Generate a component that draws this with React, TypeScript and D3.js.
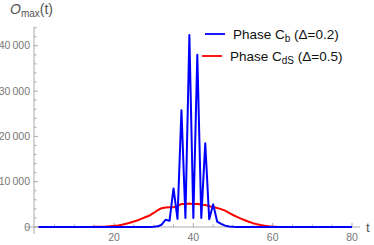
import { useEffect, useRef } from 'react';
import * as d3 from 'd3';

const tValues = d3.range(1, 81);

// Phase C_b (Δ=0.2), t = 1..80
const blueValues = [
  0, 0, 0, 0, 0, 0, 0, 0, 0, 0,
  0, 0, 0, 0, 0, 0, 0, 0, 0, 0,
  0, 0, 0, 0, 0, 0, 0, 0, 10, 50,
  150, 500, 1600, 1400, 8500, 1800, 25800, 2000, 42400, 2000,
  38000, 2000, 18500, 1700, 5000, 1200, 700, 300, 120, 50,
  20, 5, 0, 0, 0, 0, 0, 0, 0, 0,
  0, 0, 0, 0, 0, 0, 0, 0, 0, 0,
  0, 0, 0, 0, 0, 0, 0, 0, 0, 0,
];

// Phase C_dS (Δ=0.5), t = 1..80
const redValues = [
  0, 0, 0, 0, 0, 0, 0, 0, 0, 5,
  8, 12, 18, 25, 35, 50, 80, 120, 180, 250,
  350, 500, 700, 950, 1200, 1500, 1850, 2200, 2550, 3100,
  3700, 4150, 4300, 4350, 4350, 4600, 5100, 5050, 5200, 5050,
  5150, 4900, 4850, 4600, 4400, 4200, 3950, 3600, 3100, 2650,
  2250, 1850, 1500, 1150, 850, 620, 420, 260, 150, 80,
  40, 20, 10, 5, 0, 0, 0, 0, 0, 0,
  0, 0, 0, 0, 0, 0, 0, 0, 0, 0,
];

const xTicks = [20, 40, 60, 80];
const yTicks = [0, 10000, 20000, 30000, 40000];

const legendItems = [
  { name: 'Phase C', sub: 'b', rest: ' (Δ=0.2)', color: '#0000ff' },
  { name: 'Phase C', sub: 'dS', rest: ' (Δ=0.5)', color: '#ff0000' },
];

const W = 374;
const H = 245;

export default function App() {
  const ref = useRef<SVGSVGElement | null>(null);

  useEffect(() => {
    const svg = d3.select(ref.current);
    svg.selectAll('*').remove();

    const font = 'Liberation Sans, Arial, sans-serif';
    const grey = '#777';

    const x = d3.scaleLinear().domain([0, 80]).range([34.7, 352]);
    const y = d3.scaleLinear().domain([0, 44150]).range([227, 27]);

    // axes lines
    svg.append('line')
      .attr('x1', 26).attr('x2', 360)
      .attr('y1', y(0)).attr('y2', y(0))
      .attr('stroke', '#aaa').attr('stroke-width', 1);
    svg.append('line')
      .attr('x1', 34).attr('x2', 34)
      .attr('y1', 27).attr('y2', 234)
      .attr('stroke', '#aaa').attr('stroke-width', 1);

    // x ticks
    const xMinor = d3.range(5, 81, 5);
    svg.selectAll('.xt').data(xMinor).enter().append('line')
      .attr('x1', d => x(d)).attr('x2', d => x(d))
      .attr('y1', y(0)).attr('y2', d => y(0) - (d % 20 === 0 ? 4 : 2.5))
      .attr('stroke', '#aaa');
    svg.selectAll('.xl').data(xTicks).enter().append('text')
      .attr('x', d => x(d)).attr('y', 241)
      .attr('text-anchor', 'middle')
      .attr('font-family', font).attr('font-size', 10.5)
      .attr('fill', grey)
      .text(d => String(d));

    // y ticks
    const yMinor = d3.range(0, 44001, 2000);
    svg.selectAll('.yt').data(yMinor).enter().append('line')
      .attr('x1', 34).attr('x2', d => 34 + (d % 10000 === 0 ? 4 : 2.5))
      .attr('y1', d => y(d)).attr('y2', d => y(d))
      .attr('stroke', '#aaa');
    svg.selectAll('.yl').data(yTicks).enter().append('text')
      .attr('x', 30).attr('y', d => y(d) + 3.5)
      .attr('text-anchor', 'end')
      .attr('font-family', font).attr('font-size', 10.5)
      .attr('fill', grey)
      .text(d => d3.format(',')(d).replace(',', '\u2009'));

    // axis labels
    const title = svg.append('text')
      .attr('x', 10).attr('y', 14)
      .attr('font-family', font).attr('font-size', 14)
      .attr('fill', '#555');
    title.append('tspan').attr('font-style', 'italic').text('O');
    title.append('tspan').attr('font-size', 10).attr('dy', 3).text('max');
    title.append('tspan').attr('dy', -3).text('(t)');

    svg.append('text')
      .attr('x', 366).attr('y', 232)
      .attr('font-family', font).attr('font-size', 13.5)
      .attr('fill', '#555')
      .text('t');

    // lines
    const line = d3.line<number>()
      .x((_, i) => x(tValues[i]))
      .y(d => y(d));

    svg.append('path').datum(redValues)
      .attr('d', line)
      .attr('fill', 'none')
      .attr('stroke', '#ff0000')
      .attr('stroke-width', 2)
      .attr('stroke-linejoin', 'round');

    svg.append('path').datum(blueValues)
      .attr('d', line)
      .attr('fill', 'none')
      .attr('stroke', '#0000ff')
      .attr('stroke-width', 2)
      .attr('stroke-linejoin', 'round');

    // legend
    const lg = svg.selectAll('.lg').data(legendItems).enter().append('g')
      .attr('transform', (_, i) => `translate(${i === 0 ? 205 : 202}, ${34 + i * 22})`);
    lg.append('line')
      .attr('x1', 0).attr('x2', 20)
      .attr('stroke', d => d.color).attr('stroke-width', 1.8);
    const lt = lg.append('text')
      .attr('x', 28).attr('y', 5)
      .attr('font-family', font).attr('font-size', 13.5)
      .attr('fill', '#111');
    lt.append('tspan').text(d => d.name);
    lt.append('tspan').attr('font-size', 10).attr('dy', 3).text(d => d.sub);
    lt.append('tspan').attr('dy', -3).text(d => d.rest);
  }, []);

  return (
    <svg
      ref={ref}
      width={W}
      height={H}
      style={{ position: 'absolute', left: 0, top: 0, background: '#fff' }}
    ></svg>
  );
}
